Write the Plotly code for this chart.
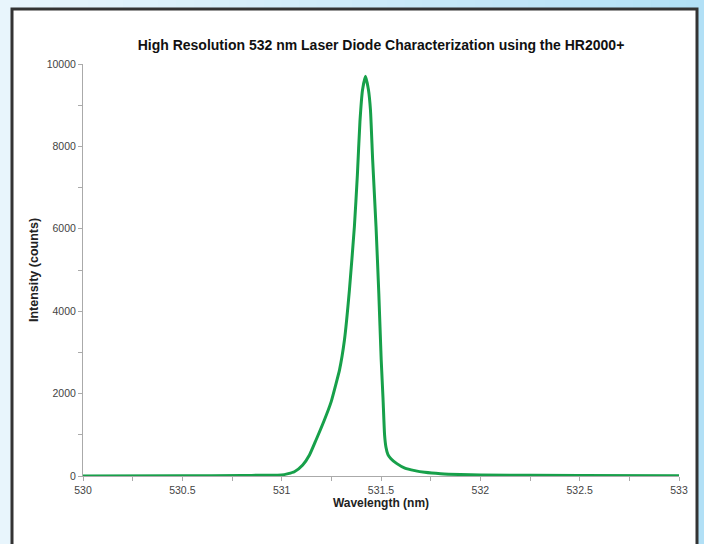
import plotly.graph_objects as go

# Data
wavelength_nm = [530.0, 530.5, 530.8, 530.9, 531.0, 531.064, 531.106, 531.14, 531.173,
                 531.215, 531.249, 531.274, 531.291, 531.316, 531.341, 531.366, 531.381,
                 531.394, 531.407, 531.422, 531.437, 531.447, 531.458, 531.475, 531.489,
                 531.501, 531.51, 531.518, 531.525, 531.535, 531.55, 531.58, 531.62,
                 531.67, 531.72, 531.8, 531.9, 532.0, 532.5, 533.0]
intensity_counts = [0, 5, 12, 18, 24, 104, 267, 510, 874,
                    1360, 1800, 2250, 2570, 3300, 4510, 6050, 7300,
                    8600, 9370, 9700, 9370, 8880, 7670, 6050, 4430,
                    2820, 1900, 1000, 700, 520, 420, 300, 190,
                    130, 90, 55, 35, 25, 10, 5]

x_ticks = [530, 530.5, 531, 531.5, 532, 532.5, 533]
x_tick_labels = ["530", "530.5", "531", "531.5", "532", "532.5", "533"]
y_ticks = [0, 2000, 4000, 6000, 8000, 10000]
y_tick_labels = ["0", "2000", "4000", "6000", "8000", "10000"]

W, H = 704, 544
L, R, T, B = 83, 679, 64, 476


def px_x(p):
    return (p - L) / (R - L)


def px_y(p):
    return (B - p) / (B - T)


fig = go.Figure()
fig.add_trace(go.Scatter(
    x=wavelength_nm, y=intensity_counts, mode="lines",
    line=dict(color="#17a04a", width=3, shape="spline", smoothing=0.5),
    hoverinfo="x+y", showlegend=False,
))

shapes = []
# light-blue gradient backdrop (vertical stripes)
n = 40
c0 = (232, 245, 252)
c1 = (178, 224, 246)
for i in range(n):
    t = i / (n - 1)
    col = tuple(int(round(c0[k] + (c1[k] - c0[k]) * t)) for k in range(3))
    shapes.append(dict(type="rect", xref="paper", yref="paper", layer="below",
                       x0=px_x(W * i / n), x1=px_x(W * (i + 1) / n + 1),
                       y0=px_y(H + 5), y1=px_y(-5),
                       fillcolor="rgb(%d,%d,%d)" % col, line=dict(width=0)))
# white panel with dark frame
shapes.append(dict(type="rect", xref="paper", yref="paper", layer="below",
                   x0=px_x(12), x1=px_x(697), y0=px_y(560), y1=px_y(9),
                   fillcolor="white", line=dict(color="#333333", width=3)))

fig.update_layout(
    width=W, height=H,
    margin=dict(l=L, r=W - R, t=T, b=H - B),
    paper_bgcolor="#cdeaf8", plot_bgcolor="rgba(0,0,0,0)",
    shapes=shapes,
    font=dict(family="Liberation Sans, Arial, sans-serif", color="#222222"),
    title=dict(text="<b>High Resolution 532 nm Laser Diode Characterization using the HR2000+</b>",
               x=0.5, xanchor="center", xref="paper", y=1 - 45 / H, yanchor="middle",
               font=dict(size=14, color="#111111")),
    xaxis=dict(range=[530, 533], tickvals=x_ticks, ticktext=x_tick_labels,
               showgrid=False, zeroline=False, showline=True, linecolor="#aaaaaa",
               linewidth=1, ticks="outside", ticklen=4, tickcolor="#aaaaaa",
               tickfont=dict(size=10.5, color="#444444"),
               minor=dict(tickvals=[530.25, 530.75, 531.25, 531.75, 532.25, 532.75],
                          ticks="outside", ticklen=4, tickcolor="#aaaaaa"),
               title=dict(text="<b>Wavelength (nm)</b>", font=dict(size=12, color="#222222"),
                          standoff=4)),
    yaxis=dict(range=[0, 10000], tickvals=y_ticks, ticktext=y_tick_labels,
               showgrid=False, zeroline=False, showline=True, linecolor="#aaaaaa",
               linewidth=1, ticks="outside", ticklen=4, tickcolor="#aaaaaa",
               tickfont=dict(size=10.5, color="#444444"),
               minor=dict(tickvals=[1000, 3000, 5000, 7000, 9000],
                          ticks="outside", ticklen=4, tickcolor="#aaaaaa"),
               title=dict(text="<b>Intensity (counts)</b>", font=dict(size=12.5, color="#222222"),
                          standoff=5)),
)

fig.write_html("out.html",
               config={"displayModeBar": False},
               post_script="document.body.style.margin='0';document.body.style.overflow='hidden';")
